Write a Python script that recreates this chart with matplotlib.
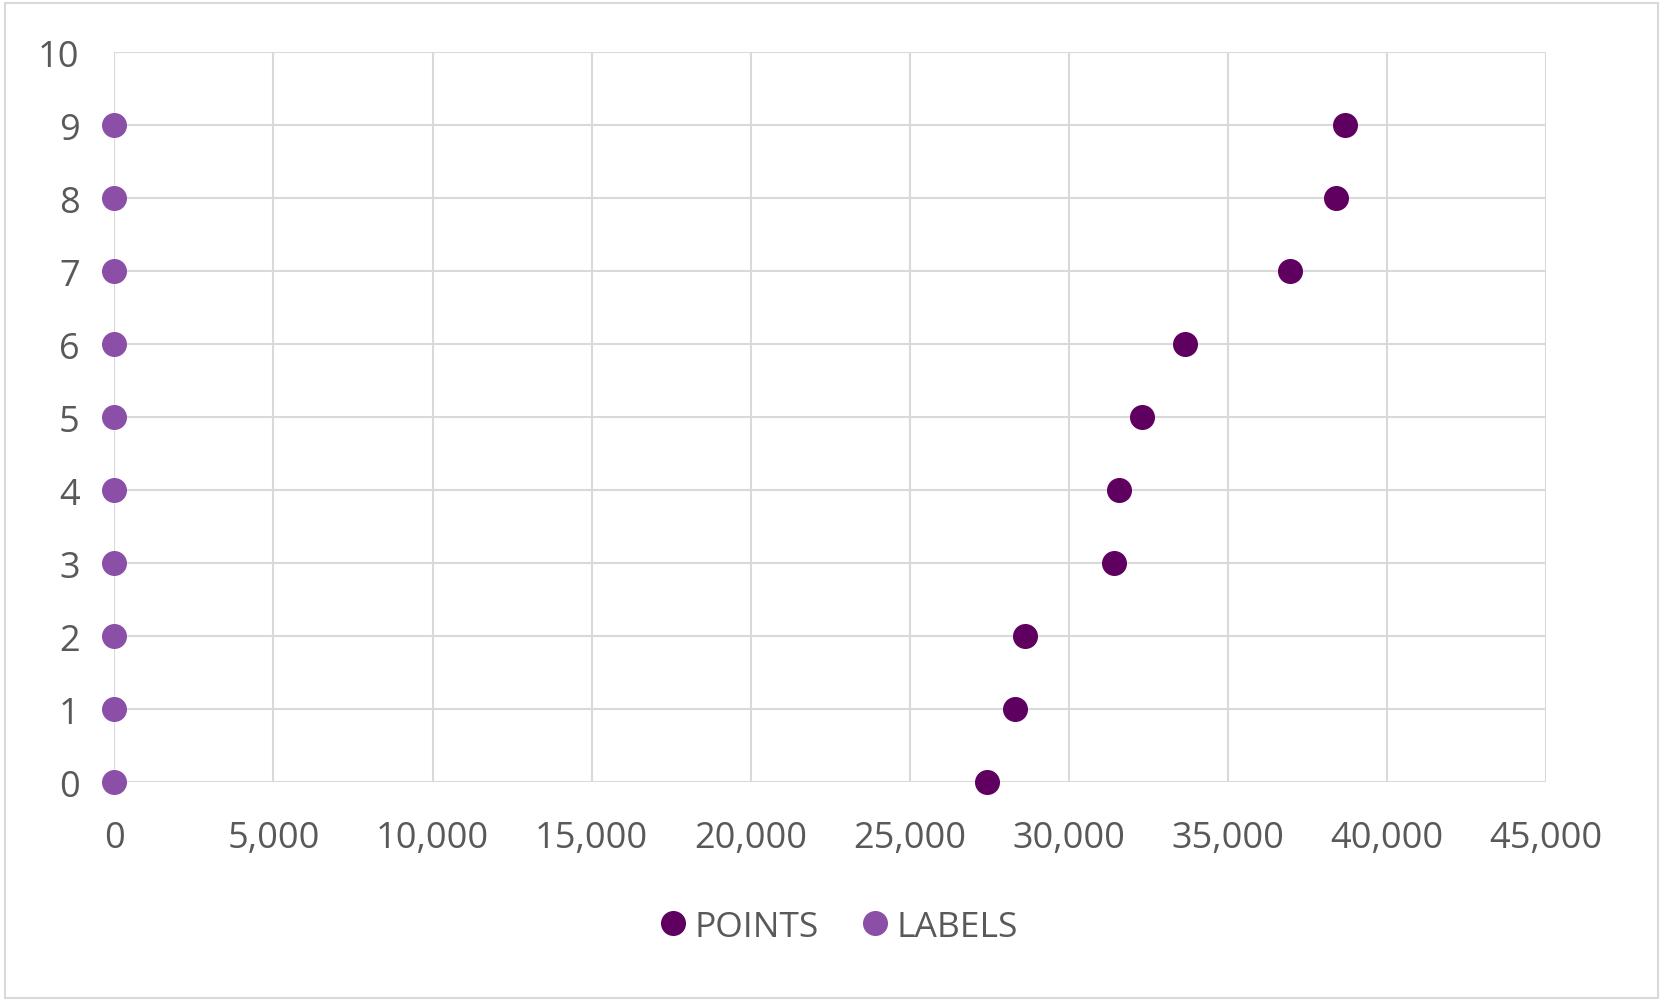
import matplotlib.pyplot as plt
from matplotlib.ticker import FuncFormatter, MultipleLocator
from matplotlib.patches import Rectangle

plt.rcParams['font.family'] = ['Open Sans', 'DejaVu Sans']

# data
rank = [0, 1, 2, 3, 4, 5, 6, 7, 8, 9]
points = [27440, 28310, 28630, 31420, 31580, 32300, 33660, 36960, 38400, 38690]
labels_x = [0, 0, 0, 0, 0, 0, 0, 0, 0, 0]

POINT_COL = '#5F0060'
LABEL_COL = '#8B4FA8'
GRID_COL = '#D9D9D9'
TEXT_COL = '#595959'

fig = plt.figure(figsize=(16.63, 10.03), dpi=100)
ax = fig.add_axes([0.0688, 0.219, 0.8609, 0.728])

ax.plot(points, rank, 'o', color=POINT_COL, markersize=17, label='POINTS',
        clip_on=False, zorder=3)
ax.plot(labels_x, rank, 'o', color=LABEL_COL, markersize=17, label='LABELS',
        clip_on=False, zorder=3)

ax.set_xlim(0, 45000)
ax.set_ylim(0, 10)
ax.xaxis.set_major_locator(MultipleLocator(5000))
ax.yaxis.set_major_locator(MultipleLocator(1))
ax.xaxis.set_major_formatter(FuncFormatter(lambda v, p: f'{int(v):,}'))

ax.grid(True, color=GRID_COL, linewidth=1.5)
ax.set_axisbelow(True)
for s in ax.spines.values():
    s.set_visible(False)
ax.tick_params(length=0, labelsize=26, colors=TEXT_COL)
ax.tick_params(axis='y', pad=25)
ax.tick_params(axis='x', pad=27)

leg = fig.legend(loc='center', bbox_to_anchor=(0.503, 0.075), ncol=2,
                 frameon=False, fontsize=25.5, handletextpad=0.1,
                 columnspacing=1.1, handlelength=1.0, markerscale=1.0)
for t in leg.get_texts():
    t.set_color(TEXT_COL)

fig.patches.append(Rectangle((0.003, 0.004), 0.994, 0.992, transform=fig.transFigure,
                             fill=False, edgecolor=GRID_COL, linewidth=1.5))

fig.savefig('out.png', dpi=100)
